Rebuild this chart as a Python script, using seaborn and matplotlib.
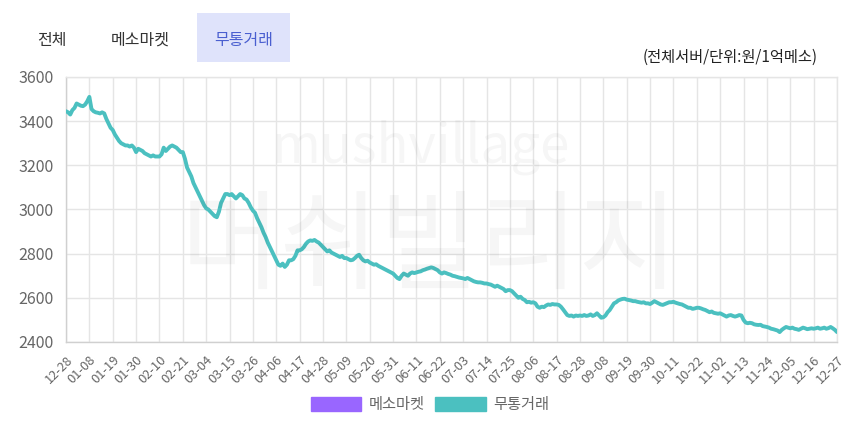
import matplotlib
matplotlib.use("Agg")
import matplotlib.pyplot as plt
import matplotlib.patches as mpatches
import seaborn as sns

# ---------------- data ----------------
tick_labels = ["12-28", "01-08", "01-19", "01-30", "02-10", "02-21", "03-04", "03-15",
               "03-26", "04-06", "04-17", "04-28", "05-09", "05-20", "05-31", "06-11",
               "06-22", "07-03", "07-14", "07-25", "08-06", "08-17", "08-28", "09-08",
               "09-19", "09-30", "10-11", "10-22", "11-02", "11-13", "11-24", "12-05",
               "12-16", "12-27"]

# daily 무통거래 price (원 / 1억메소), 11 days per tick interval
mutong_prices = [
    3445, 3440, 3430, 3450, 3460, 3480, 3475, 3470, 3468, 3475, 3490,
    3510, 3455, 3445, 3440, 3438, 3435, 3440, 3435, 3410, 3390, 3370,
    3360, 3340, 3325, 3310, 3300, 3295, 3290, 3290, 3285, 3290, 3280,
    3260, 3275, 3270, 3265, 3255, 3250, 3245, 3240, 3245, 3240, 3240,
    3240, 3250, 3280, 3265, 3275, 3285, 3290, 3285, 3280, 3270, 3260,
    3260, 3230, 3190, 3170, 3150, 3120, 3100, 3080, 3060, 3040, 3020,
    3005, 3000, 2990, 2980, 2970, 2965, 2990, 3030, 3050, 3070, 3070,
    3065, 3070, 3060, 3050, 3060, 3070, 3065, 3050, 3045, 3030, 3010,
    2995, 2985, 2960, 2940, 2920, 2895, 2875, 2850, 2830, 2810, 2790,
    2770, 2750, 2745, 2755, 2740, 2750, 2770, 2770, 2775, 2790, 2815,
    2815, 2820, 2830, 2845, 2855, 2860, 2858, 2862, 2855, 2850, 2840,
    2830, 2820, 2810, 2815, 2805, 2800, 2795, 2790, 2785, 2790, 2780,
    2780, 2775, 2770, 2772, 2780, 2790, 2795, 2780, 2770, 2765, 2768,
    2760, 2755, 2750, 2752, 2745, 2740, 2735, 2730, 2725, 2720, 2715,
    2710, 2700, 2690, 2685, 2700, 2710, 2705, 2700, 2710, 2715, 2712,
    2715, 2718, 2720, 2725, 2728, 2732, 2735, 2738, 2735, 2730, 2725,
    2715, 2710, 2715, 2712, 2708, 2705, 2700, 2698, 2695, 2692, 2690,
    2688, 2685, 2690, 2685, 2680, 2675, 2672, 2670, 2670, 2668, 2665,
    2665, 2662, 2660, 2655, 2650, 2655, 2650, 2645, 2640, 2630, 2635,
    2635, 2630, 2620, 2610, 2600, 2605, 2595, 2590, 2580, 2582, 2578,
    2580, 2575, 2560, 2555, 2560, 2558, 2565, 2570, 2568, 2572, 2570,
    2570, 2568, 2560, 2548, 2535, 2522, 2518, 2520, 2515, 2520, 2518,
    2520, 2518, 2522, 2518, 2520, 2525, 2518, 2522, 2530, 2520, 2510,
    2512, 2520, 2535, 2545, 2560, 2575, 2580, 2588, 2592, 2595, 2596,
    2592, 2590, 2588, 2585, 2585, 2582, 2580, 2578, 2580, 2575, 2575,
    2572, 2578, 2585, 2580, 2575, 2570, 2568, 2572, 2576, 2580, 2580,
    2582, 2578, 2575, 2572, 2570, 2565, 2560, 2555, 2555, 2550, 2552,
    2555, 2555, 2552, 2548, 2545, 2540, 2535, 2538, 2532, 2530, 2528,
    2530, 2525, 2520, 2515, 2520, 2522, 2518, 2515, 2518, 2522, 2520,
    2500, 2488, 2485, 2487, 2485, 2480, 2478, 2477, 2478, 2472, 2470,
    2468, 2465, 2460, 2458, 2455, 2452, 2445, 2455, 2462, 2468, 2465,
    2462, 2465, 2460, 2458, 2455, 2460, 2465, 2462, 2458, 2460, 2462,
    2460, 2462, 2465, 2460, 2462, 2465, 2460, 2463, 2468, 2462, 2455,
    2445,
]
day_index = list(range(len(mutong_prices)))
tick_step = 11

tabs = ["전체", "메소마켓", "무통거래"]
series_names = ["메소마켓", "무통거래"]
y_ticks = [2400, 2600, 2800, 3000, 3200, 3400, 3600]

# ---------------- style ----------------
sns.set_style("white")
plt.rcParams["font.family"] = ["Noto Sans CJK KR", "DejaVu Sans"]

TEAL = "#4bc0c0"
PURPLE = "#9966ff"
GRID = "#e5e5e5"
TICKC = "#666666"

W, H = 850, 425
fig = plt.figure(figsize=(W / 100, H / 100), dpi=100)
ax = fig.add_axes([66 / W, 1 - 342 / H, (837 - 66) / W, (342 - 77) / H])

# watermark
fig.text(420 / W, 1 - 147 / H, "mushvillage", ha="center", va="center",
         fontsize=38, color="#000000", alpha=0.035, zorder=0)
fig.text(430 / W, 1 - 250 / H, "머쉬빌리지", ha="center", va="center",
         fontsize=78, color="#000000", alpha=0.035, zorder=0)

sns.lineplot(x=day_index, y=mutong_prices, ax=ax, color=TEAL, linewidth=2.8,
             solid_joinstyle="round", solid_capstyle="round", zorder=3)

ax.set_xlim(0, len(mutong_prices) - 1)
ax.set_ylim(2400, 3600)
ax.set_yticks(y_ticks)
ax.set_yticklabels([str(v) for v in y_ticks])
ax.set_xticks([i * tick_step for i in range(len(tick_labels))])
ax.set_xticklabels(tick_labels, rotation=45, ha="right", rotation_mode="anchor")
ax.set_facecolor("none")
ax.patch.set_alpha(0)

ax.grid(True, color=GRID, linewidth=1)
ax.tick_params(axis="both", length=7, color=GRID, width=1, colors=TICKC)
ax.tick_params(axis="y", labelsize=11.5, pad=2)
ax.tick_params(axis="x", labelsize=9.3, pad=1)
for lab in ax.get_xticklabels() + ax.get_yticklabels():
    lab.set_color(TICKC)
for side, sp in ax.spines.items():
    sp.set_visible(True)
    sp.set_color("#d0d0d0" if side in ("left", "bottom") else GRID)
    sp.set_linewidth(1)
ax.set_xlabel("")
ax.set_ylabel("")

# tabs
fig.patches.append(mpatches.Rectangle((197 / W, 1 - 62 / H), 93 / W, 49 / H,
                                      transform=fig.transFigure, facecolor="#dfe3fb",
                                      edgecolor="none", zorder=0))
tab_x = [52, 140, 244]
for t, xx in zip(tabs, tab_x):
    fig.text(xx / W, 1 - 40 / H, t, ha="center", va="center", fontsize=11.5,
             color="#4a5fd0" if t == "무통거래" else "#333333")

fig.text(818 / W, 1 - 57 / H, "(전체서버/단위:원/1억메소)", ha="right", va="center",
         fontsize=11, color="#222222")

# legend
handles = [mpatches.Patch(facecolor=PURPLE, edgecolor=PURPLE, label=series_names[0]),
           mpatches.Patch(facecolor=TEAL, edgecolor=TEAL, label=series_names[1])]
leg = fig.legend(handles=handles, loc="center", bbox_to_anchor=(430 / W, 1 - 405 / H),
                 ncol=2, frameon=False, fontsize=11, handlelength=3.3, handleheight=1.0,
                 handletextpad=0.5, columnspacing=0.7, borderaxespad=0)
for txt in leg.get_texts():
    txt.set_color(TICKC)

fig.savefig("out.png", dpi=100, facecolor="white")
